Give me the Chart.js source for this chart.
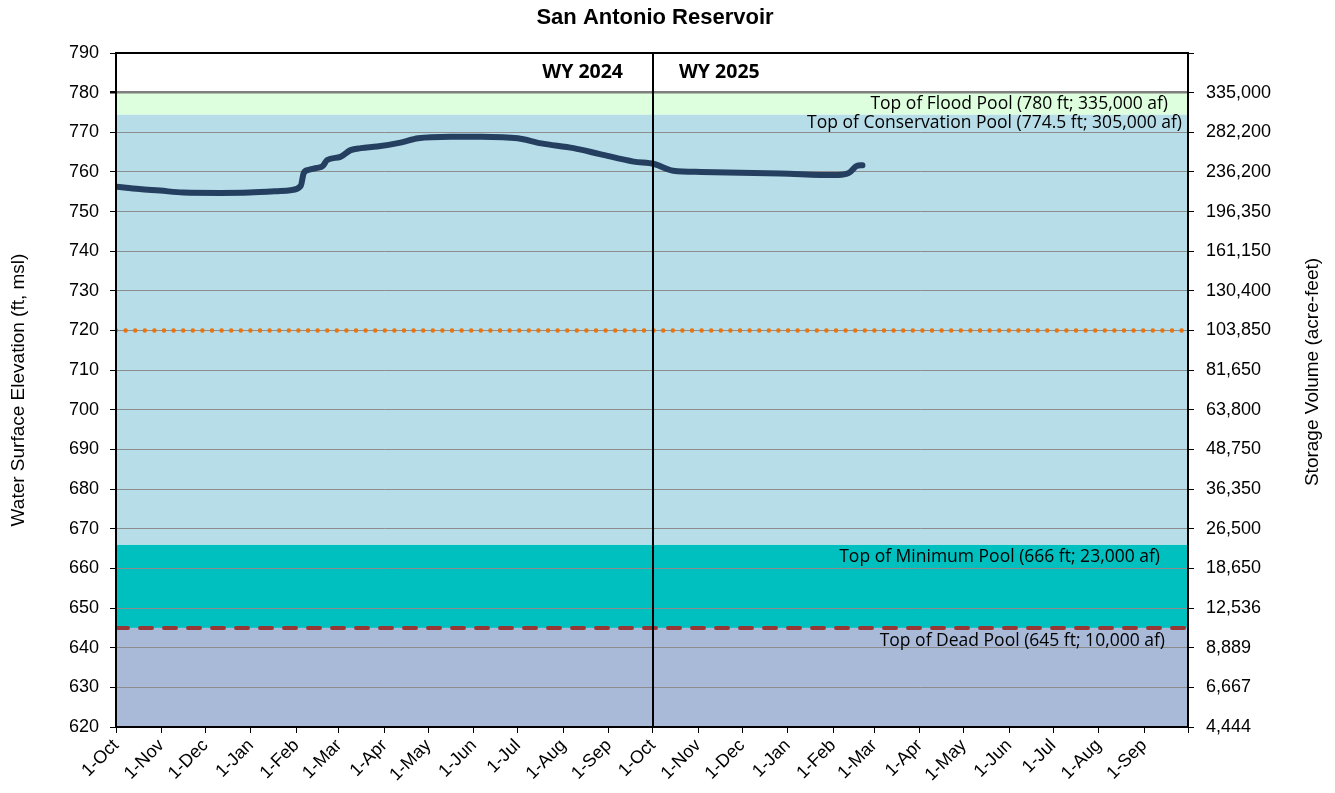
<!DOCTYPE html>
<html>
<head>
<meta charset="utf-8">
<script src="https://cdn.jsdelivr.net/npm/chart.js@4.4.1/dist/chart.umd.min.js"></script>
<style>
  html, body { margin: 0; padding: 0; background: #fff; }
  #wrap { width: 1335px; height: 793px; }
</style>
</head>
<body>
<div id="wrap"><canvas id="reservoir"></canvas></div>
<script>
// elevation record (ft, msl)
var obsDates = ['2023-10-01','2023-10-17','2023-10-31','2023-11-16','2023-12-11','2023-12-31',
  '2024-01-21','2024-01-28','2024-02-04','2024-02-06','2024-02-09','2024-02-15','2024-02-19',
  '2024-02-22','2024-03-02','2024-03-09','2024-03-16','2024-03-27','2024-04-12','2024-04-24',
  '2024-05-16','2024-06-06','2024-07-01','2024-07-17','2024-08-08','2024-08-26','2024-09-18',
  '2024-10-02','2024-10-15','2024-11-03','2024-11-30','2024-12-27','2025-02-02','2025-02-10',
  '2025-02-13','2025-02-17','2025-02-21'];
var elevation = [756.3, 755.7, 755.3, 754.8, 754.7, 754.8,
  755.2, 755.4, 756.5, 759.7, 760.5, 761.0, 761.5,
  763.0, 763.8, 765.5, 766.0, 766.4, 767.4, 768.5,
  768.9, 768.9, 768.5, 767.2, 766.0, 764.5, 762.6,
  762.0, 760.3, 760.0, 759.8, 759.6, 759.2, 759.5,
  760.1, 761.5, 761.7];

// x axis month ticks
var tickDates = ['2023-10-01','2023-11-01','2023-12-01','2024-01-01','2024-02-01','2024-03-01',
  '2024-04-01','2024-05-01','2024-06-01','2024-07-01','2024-08-01','2024-09-01',
  '2024-10-01','2024-11-01','2024-12-01','2025-01-01','2025-02-01','2025-03-01',
  '2025-04-01','2025-05-01','2025-06-01','2025-07-01','2025-08-01','2025-09-01','2025-10-01'];
var tickLabels = ['1-Oct','1-Nov','1-Dec','1-Jan','1-Feb','1-Mar','1-Apr','1-May','1-Jun','1-Jul','1-Aug','1-Sep',
  '1-Oct','1-Nov','1-Dec','1-Jan','1-Feb','1-Mar','1-Apr','1-May','1-Jun','1-Jul','1-Aug','1-Sep',''];

// right axis: storage at each elevation tick
var storageElev = [620, 630, 640, 650, 660, 670, 680, 690, 700, 710, 720, 730, 740, 750, 760, 770, 780];
var storageLabels = ['4,444','6,667','8,889','12,536','18,650','26,500','36,350','48,750','63,800',
  '81,650','103,850','130,400','161,150','196,350','236,200','282,200','335,000'];

// pools
var poolBottoms = [620, 645, 666, 774.5];
var poolTops = [645, 666, 774.5, 780];
var poolNames = ['Top of Dead Pool (645 ft; 10,000 af)', 'Top of Minimum Pool (666 ft; 23,000 af)',
  'Top of Conservation Pool (774.5 ft; 305,000 af)', 'Top of Flood Pool (780 ft; 335,000 af)'];
var refLevels = [720, 645];
var wyLabels = ['WY 2024', 'WY 2025'];
var wySplit = '2024-10-01';

var poolColors = ['#A9B9D8', '#00BFBF', '#B7DDE8', '#DDFFDD'];

var t0 = Date.parse('2023-10-01');
function dayOf(s) { return Math.round((Date.parse(s) - t0) / 86400000); }
var lastDay = dayOf(tickDates[tickDates.length - 1]);

var linePts = obsDates.map(function (d, i) { return { x: dayOf(d), y: elevation[i] }; });
function flat(v) { return [{ x: 0, y: v }, { x: lastDay, y: v }]; }

var ARIAL = '"Liberation Sans", Arial, sans-serif';
var CAL = '"Open Sans", "Noto Sans", sans-serif';

var decor = {
  id: 'decor',
  beforeDraw: function (chart) {
    var ctx = chart.ctx, a = chart.chartArea, y = chart.scales.y;
    ctx.save();
    ctx.fillStyle = '#fff';
    ctx.fillRect(0, 0, chart.width, chart.height);
    for (var i = 0; i < poolTops.length; i++) {
      var top = y.getPixelForValue(poolTops[i]);
      var bot = y.getPixelForValue(poolBottoms[i]);
      ctx.fillStyle = poolColors[i];
      ctx.fillRect(a.left, top, a.right - a.left, bot - top);
    }
    ctx.restore();
  },
  afterDraw: function (chart) {
    var ctx = chart.ctx, a = chart.chartArea, y = chart.scales.y, x = chart.scales.x;
    ctx.save();
    // frame + water year split
    ctx.strokeStyle = '#000';
    ctx.lineWidth = 2;
    ctx.strokeRect(a.left, a.top, a.right - a.left, a.bottom - a.top);
    var xs = Math.round(x.getPixelForValue(dayOf(wySplit)));
    ctx.beginPath();
    ctx.moveTo(xs, a.top);
    ctx.lineTo(xs, a.bottom);
    ctx.stroke();

    ctx.fillStyle = '#000';
    ctx.textBaseline = 'middle';
    // title
    ctx.font = 'bold 22px ' + ARIAL;
    ctx.textAlign = 'center';
    ctx.fillText('San Antonio Reservoir', 655, 18);

    // WY labels
    ctx.font = 'bold 19.5px ' + CAL;
    ctx.textAlign = 'right';
    ctx.fillText(wyLabels[0], xs - 30, y.getPixelForValue(785));
    ctx.textAlign = 'left';
    ctx.fillText(wyLabels[1], xs + 26, y.getPixelForValue(785));

    // pool labels
    ctx.font = '17.5px ' + CAL;
    ctx.textAlign = 'right';
    ctx.fillText(poolNames[3], a.right - 20, y.getPixelForValue(777.2));
    ctx.fillText(poolNames[2], a.right - 6, y.getPixelForValue(772.3));
    ctx.fillText(poolNames[1], a.right - 28, y.getPixelForValue(662.9));
    ctx.fillText(poolNames[0], a.right - 23, y.getPixelForValue(641.7));

    // axis titles
    ctx.font = '19px ' + ARIAL;
    ctx.textAlign = 'center';
    ctx.save();
    ctx.translate(19, 390);
    ctx.rotate(-Math.PI / 2);
    ctx.fillText('Water Surface Elevation (ft, msl)', 0, 0);
    ctx.restore();
    ctx.save();
    ctx.translate(1313, 372);
    ctx.rotate(-Math.PI / 2);
    ctx.fillText('Storage Volume (acre-feet)', 0, 0);
    ctx.restore();
    ctx.restore();
  }
};

new Chart(document.getElementById('reservoir'), {
  type: 'line',
  data: {
    datasets: [{
      data: linePts,
      borderColor: '#243F60',
      borderWidth: 6,
      pointRadius: 0,
      cubicInterpolationMode: 'monotone',
      borderCapStyle: 'round',
      borderJoinStyle: 'round',
      fill: false,
      order: 0
    }, {
      data: flat(refLevels[0]),
      borderColor: '#E8740E',
      borderWidth: 4.5,
      borderDash: [0, 9.6],
      borderCapStyle: 'round',
      pointRadius: 0,
      fill: false,
      order: 1
    }, {
      data: flat(refLevels[1]),
      borderColor: '#953735',
      borderWidth: 4,
      borderDash: [12, 12],
      borderCapStyle: 'round',
      pointRadius: 0,
      fill: false,
      order: 1
    }]
  },
  options: {
    responsive: true,
    maintainAspectRatio: false,
    animation: false,
    layout: { padding: { top: 53, left: 0, right: 0, bottom: 0 } },
    plugins: {
      legend: { display: false },
      title: { display: false },
      tooltip: { enabled: false }
    },
    scales: {
      x: {
        type: 'linear',
        min: 0,
        max: lastDay,
        afterBuildTicks: function (s) {
          s.ticks = tickDates.map(function (d) { return { value: dayOf(d) }; });
        },
        afterFit: function (s) { s.height = 66; },
        ticks: {
          autoSkip: false,
          maxRotation: 45,
          minRotation: 45,
          color: '#000',
          padding: 2,
          font: { family: ARIAL, size: 18 },
          callback: function (v, i) { return tickLabels[i]; }
        },
        grid: { drawOnChartArea: false, tickLength: 6, tickColor: '#000' },
        border: { color: '#000', width: 2 }
      },
      y: {
        position: 'left',
        min: 620,
        max: 790,
        afterFit: function (s) { s.width = 116; },
        ticks: {
          stepSize: 10,
          color: '#000',
          padding: 11,
          font: { family: ARIAL, size: 18 }
        },
        grid: {
          color: function (c) {
            var v = c.tick && c.tick.value;
            if (v === 620 || v === 790) return 'rgba(0,0,0,0)';
            return v === 780 ? '#7f7f7f' : '#8c8c8c';
          },
          lineWidth: function (c) { return c.tick && c.tick.value === 780 ? 2.5 : 1; },
          tickColor: '#000',
          tickLength: 6
        },
        border: { color: '#000', width: 2 }
      },
      y2: {
        position: 'right',
        min: 620,
        max: 790,
        afterFit: function (s) { s.width = 147; },
        ticks: {
          stepSize: 10,
          color: '#000',
          padding: 12,
          font: { family: ARIAL, size: 18 },
          callback: function (v) {
            var i = storageElev.indexOf(v);
            return i < 0 ? '' : storageLabels[i];
          }
        },
        grid: { drawOnChartArea: false, tickColor: '#000', tickLength: 6 },
        border: { color: '#000', width: 2 }
      }
    }
  },
  plugins: [decor]
});
</script>
</body>
</html>
